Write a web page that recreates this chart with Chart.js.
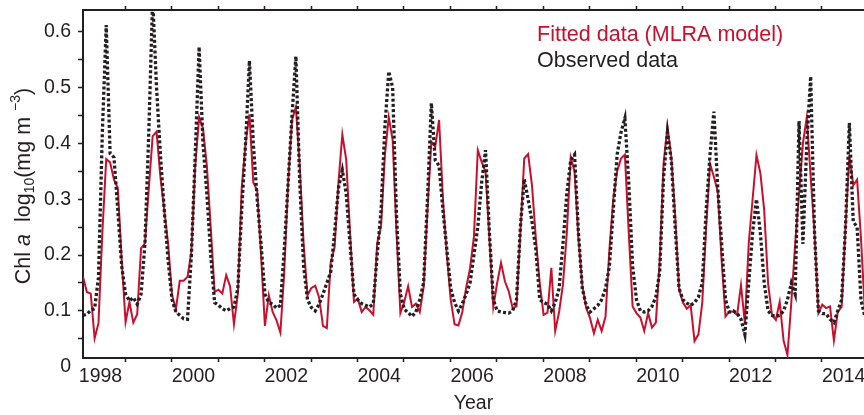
<!DOCTYPE html>
<html>
<head>
<meta charset="utf-8">
<script src="https://cdn.jsdelivr.net/npm/chart.js@4.4.1/dist/chart.umd.min.js"></script>
<style>
  html, body { margin: 0; padding: 0; background: #fff; }
  #wrap { width: 864px; height: 415px; }
</style>
</head>
<body>
<div id="wrap"><canvas id="myChart"></canvas></div>
<script>
// monthly values, first one is early Feb 1998
const firstMonth = 1998.09
const lastX = 2014.905

const fitted = [
  0.161, 0.134, 0.131, 0.051, 0.078, 0.24, 0.372, 0.366, 0.335, 0.320, 0.19, 0.080,
  0.116, 0.079, 0.094, 0.212, 0.221, 0.32, 0.413, 0.421, 0.34, 0.28, 0.22, 0.128,
  0.103, 0.154, 0.154, 0.161, 0.206, 0.36, 0.447, 0.427, 0.36, 0.25, 0.134, 0.138,
  0.131, 0.164, 0.144, 0.076, 0.13, 0.32, 0.40, 0.452, 0.33, 0.316, 0.20, 0.073,
  0.128, 0.098, 0.083, 0.061, 0.17, 0.33, 0.442, 0.465, 0.36, 0.22, 0.128, 0.141,
  0.145, 0.124, 0.073, 0.069, 0.187, 0.214, 0.33, 0.416, 0.371, 0.24, 0.116, 0.122,
  0.098, 0.107, 0.101, 0.093, 0.221, 0.251, 0.38, 0.447, 0.406, 0.24, 0.096, 0.116,
  0.144, 0.107, 0.113, 0.098, 0.142, 0.28, 0.403, 0.394, 0.442, 0.30, 0.20, 0.12,
  0.076, 0.074, 0.098, 0.142, 0.176, 0.233, 0.388, 0.367, 0.349, 0.23, 0.107, 0.15,
  0.186, 0.153, 0.135, 0.105, 0.108, 0.24, 0.373, 0.381, 0.325, 0.23, 0.15, 0.093,
  0.097, 0.177, 0.064, 0.098, 0.147, 0.24, 0.375, 0.35, 0.23, 0.146, 0.105, 0.087,
  0.060, 0.084, 0.064, 0.090, 0.21, 0.30, 0.35, 0.373, 0.380, 0.24, 0.108, 0.096,
  0.088, 0.064, 0.096, 0.070, 0.079, 0.19, 0.364, 0.430, 0.376, 0.27, 0.139, 0.115,
  0.104, 0.11, 0.046, 0.058, 0.115, 0.25, 0.364, 0.34, 0.314, 0.19, 0.090, 0.099,
  0.099, 0.093, 0.146, 0.078, 0.221, 0.30, 0.379, 0.347, 0.28, 0.149, 0.093, 0.084,
  0.116, 0.047, 0.021, 0.115, 0.22, 0.31, 0.40, 0.447, 0.34, 0.24, 0.096, 0.111,
  0.105, 0.108, 0.047, 0.098, 0.107, 0.25, 0.379, 0.325, 0.335, 0.23, 0.10
]

const observed = [
  0.092, 0.094, 0.101, 0.104, 0.16, 0.42, 0.612, 0.382, 0.375, 0.28, 0.18, 0.13,
  0.118, 0.124, 0.112, 0.13, 0.22, 0.42, 0.66, 0.50, 0.38, 0.28, 0.19, 0.12,
  0.098, 0.092, 0.086, 0.085, 0.20, 0.38, 0.573, 0.40, 0.31, 0.20, 0.115, 0.11,
  0.104, 0.10, 0.104, 0.107, 0.14, 0.28, 0.40, 0.548, 0.40, 0.30, 0.22, 0.13,
  0.115, 0.112, 0.105, 0.11, 0.21, 0.33, 0.45, 0.556, 0.33, 0.18, 0.12, 0.106,
  0.10, 0.112, 0.13, 0.15, 0.17, 0.24, 0.32, 0.352, 0.31, 0.22, 0.13, 0.12,
  0.113, 0.11, 0.107, 0.113, 0.20, 0.28, 0.43, 0.529, 0.50, 0.27, 0.13, 0.103,
  0.097, 0.09, 0.098, 0.12, 0.15, 0.30, 0.472, 0.37, 0.36, 0.28, 0.21, 0.14,
  0.115, 0.10, 0.113, 0.13, 0.15, 0.20, 0.25, 0.33, 0.388, 0.24, 0.12, 0.10,
  0.098, 0.097, 0.096, 0.10, 0.12, 0.25, 0.336, 0.30, 0.26, 0.21, 0.12, 0.115,
  0.112, 0.10, 0.115, 0.14, 0.22, 0.31, 0.37, 0.38, 0.24, 0.14, 0.11, 0.098,
  0.104, 0.11, 0.12, 0.14, 0.18, 0.28, 0.38, 0.42, 0.445, 0.33, 0.18, 0.12,
  0.10, 0.098, 0.10, 0.108, 0.125, 0.17, 0.34, 0.42, 0.37, 0.25, 0.14, 0.12,
  0.114, 0.11, 0.115, 0.125, 0.15, 0.28, 0.38, 0.457, 0.32, 0.22, 0.12, 0.098,
  0.10, 0.096, 0.085, 0.058, 0.15, 0.24, 0.30, 0.24, 0.15, 0.10, 0.092, 0.09,
  0.092, 0.10, 0.12, 0.15, 0.13, 0.44, 0.22, 0.40, 0.52, 0.24, 0.10, 0.095,
  0.095, 0.085, 0.079, 0.10, 0.12, 0.25, 0.437, 0.26, 0.25, 0.12, 0.09
]

const yearTicks = [1998, 1999, 2000, 2001, 2002, 2003, 2004, 2005, 2006, 2007, 2008, 2009, 2010, 2011, 2012, 2013, 2014]
const yearLabels = [1998, 2000, 2002, 2004, 2006, 2008, 2010, 2012, 2014]
const yTicks = [0, 0.05, 0.1, 0.15, 0.2, 0.25, 0.3, 0.35, 0.4, 0.45, 0.5, 0.55, 0.6]
const yLabels = ['0', '0.1', '0.2', '0.3', '0.4', '0.5', '0.6']

const red = '#c8102e'
const ink = '#231f20'
const fontName = '"Liberation Sans", Arial, Helvetica, sans-serif'

const toPoints = arr => arr.map((v, i) => ({ x: firstMonth + i / 12, y: v }))

// no extra room for edge labels, the plot box is fixed
const noPad = s => { s.paddingTop = 0; s.paddingBottom = 0; s.paddingLeft = 0; s.paddingRight = 0 }

const overlayText = {
  id: 'overlayText',
  afterDraw(chart) {
    const ctx = chart.ctx
    ctx.save()
    ctx.textBaseline = 'middle'
    ctx.textAlign = 'left'
    ctx.font = '21.5px ' + fontName
    ctx.fillStyle = red
    ctx.fillText('Fitted data (MLRA model)', 537, 35)
    ctx.fillStyle = ink
    ctx.fillText('Observed data', 537, 61)

    // y axis title with italic a, subscript and superscript
    const parts = [
      { t: 'Chl ', f: '21.5px ' + fontName, dy: 0 },
      { t: 'a', f: 'italic 21.5px ' + fontName, dy: 0 },
      { t: '  log', f: '21.5px ' + fontName, dy: 0 },
      { t: '10', f: '14px ' + fontName, dy: 6 },
      { t: '(mg m ', f: '21.5px ' + fontName, dy: 0 },
      { t: '\u22123', f: '14px ' + fontName, dy: -8 },
      { t: ')', f: '21.5px ' + fontName, dy: 0 }
    ]
    let total = 0
    parts.forEach(p => { ctx.font = p.f; p.w = ctx.measureText(p.t).width; total += p.w })
    ctx.translate(24, 186)
    ctx.rotate(-Math.PI / 2)
    let x = -total / 2
    parts.forEach(p => {
      ctx.font = p.f
      ctx.fillText(p.t, x, p.dy)
      x += p.w
    })
    ctx.restore()
  }
}

new Chart('myChart', {
  type: 'line',
  data: {
    datasets: [{
      label: 'Observed data',
      data: toPoints(observed),
      borderColor: ink,
      borderWidth: 3.3,
      borderDash: [3, 2.3],
      pointRadius: 0,
      tension: 0,
      fill: false
    }, {
      label: 'Fitted data (MLRA model)',
      data: toPoints(fitted),
      borderColor: red,
      borderWidth: 2,
      pointRadius: 0,
      tension: 0,
      fill: false
    }]
  },
  options: {
    responsive: true,
    maintainAspectRatio: false,
    animation: false,
    layout: { padding: 0 },
    plugins: {
      legend: { display: false },
      tooltip: { enabled: false }
    },
    scales: {
      x: {
        type: 'linear',
        position: 'bottom',
        min: firstMonth,
        max: lastX,
        afterBuildTicks: s => { s.ticks = yearTicks.map(v => ({ value: v })) },
        afterFit: s => { s.height = 57; noPad(s) },
        ticks: {
          autoSkip: false,
          maxRotation: 0,
          align: 'start',
          padding: 3,
          color: ink,
          font: { family: fontName, size: 19.5 },
          callback: v => yearLabels.includes(v) ? String(v) : ''
        },
        grid: {
          drawOnChartArea: false,
          tickLength: 4,
          tickWidth: 1.5,
          tickColor: c => (c.tick && c.tick.value < firstMonth) ? 'rgba(0,0,0,0)' : ink
        },
        border: { color: ink, width: 2 },
        title: {
          display: true,
          text: 'Year',
          color: ink,
          font: { family: fontName, size: 19.5 },
          padding: { top: 2, bottom: 0 }
        }
      },
      xTop: {
        type: 'linear',
        position: 'top',
        min: firstMonth,
        max: lastX,
        afterBuildTicks: s => { s.ticks = yearTicks.map(v => ({ value: v })) },
        afterFit: s => { s.height = 10; noPad(s) },
        ticks: { display: false },
        grid: {
          drawOnChartArea: false,
          tickLength: 4,
          tickWidth: 1.5,
          tickColor: c => (c.tick && c.tick.value < firstMonth) ? 'rgba(0,0,0,0)' : ink
        },
        border: { color: ink, width: 2 }
      },
      y: {
        min: 0.0156,
        max: 0.639,
        afterBuildTicks: s => { s.ticks = yTicks.map(v => ({ value: v })) },
        afterFit: s => { s.width = 83; noPad(s) },
        ticks: {
          autoSkip: false,
          padding: 7,
          color: ink,
          font: { family: fontName, size: 19.5 },
          callback: v => {
            const t = String(Math.round(v * 100) / 100)
            return yLabels.includes(t) ? t : ''
          }
        },
        grid: {
          drawOnChartArea: false,
          tickLength: 5,
          tickWidth: 1.5,
          tickColor: c => (c.tick && c.tick.value < 0.0156) ? 'rgba(0,0,0,0)' : ink
        },
        border: { color: ink, width: 2 }
      }
    }
  },
  plugins: [overlayText]
})
</script>
</body>
</html>
